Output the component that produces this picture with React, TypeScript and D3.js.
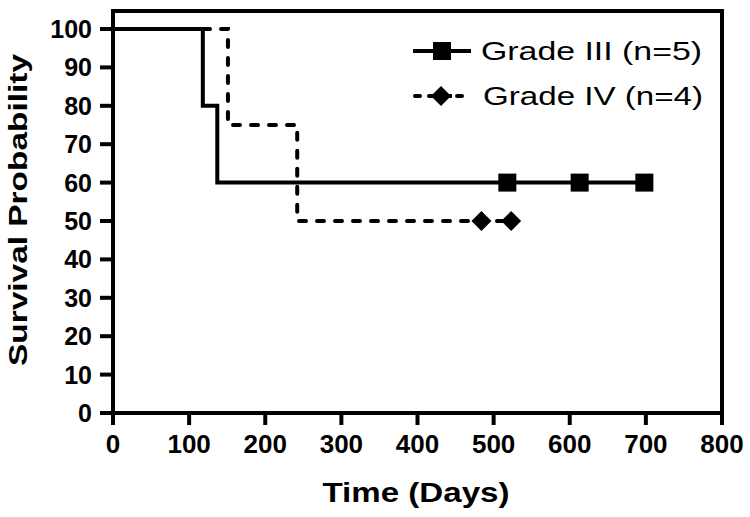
import React from "react";
import * as d3 from "d3";

const xTicks = [0, 100, 200, 300, 400, 500, 600, 700, 800];
const yTicks = [0, 10, 20, 30, 40, 50, 60, 70, 80, 90, 100];

const grade3Times = [0, 118, 137, 698];
const grade3Surv = [100, 80, 60, 60];
const grade3CensorTimes = [518, 613, 698];
const grade3CensorSurv = [60, 60, 60];

const grade4Times = [0, 151, 242, 523];
const grade4Surv = [100, 75, 50, 50];
const grade4CensorTimes = [484, 523];
const grade4CensorSurv = [50, 50];

const seriesLabels = ["Grade III (n=5)", "Grade IV (n=4)"];

const W = 750;
const H = 517;
const left = 113;
const right = 722;
const top = 29;
const bottom = 413;
const frameTop = 11;

export default function App() {
  const x = d3.scaleLinear().domain([0, 800]).range([left, right]);
  const y = d3.scaleLinear().domain([0, 100]).range([bottom, top]);

  const line = d3
    .line<[number, number]>()
    .x((d) => x(d[0]))
    .y((d) => y(d[1]))
    .curve(d3.curveStepAfter);

  const g3 = grade3Times.map((t, i) => [t, grade3Surv[i]] as [number, number]);
  const g4 = grade4Times.map((t, i) => [t, grade4Surv[i]] as [number, number]);

  const sq = 9;
  const dm = 10;
  const diamond = (cx: number, cy: number) =>
    `M${cx},${cy - dm}L${cx + dm},${cy}L${cx},${cy + dm}L${cx - dm},${cy}Z`;

  const font = "'Liberation Sans', Arial, sans-serif";

  return (
    <svg
      width={W}
      height={H}
      style={{ position: "absolute", left: 0, top: 0, background: "#fff" }}
      fontFamily={font}
    >
      <rect x={0} y={0} width={W} height={H} fill="#fff" />
      {/* data */}
      <path
        d={line(g4) || ""}
        fill="none"
        stroke="#000"
        strokeWidth={4}
        strokeDasharray="7,11"
        strokeLinecap="round"
      />
      <path d={line(g3) || ""} fill="none" stroke="#000" strokeWidth={4} />
      {grade3CensorTimes.map((t, i) => (
        <rect
          key={"s" + i}
          x={x(t) - sq}
          y={y(grade3CensorSurv[i]) - sq}
          width={sq * 2}
          height={sq * 2}
          fill="#000"
        />
      ))}
      {grade4CensorTimes.map((t, i) => (
        <path key={"d" + i} d={diamond(x(t), y(grade4CensorSurv[i]))} fill="#000" />
      ))}

      {/* frame */}
      <path
        d={`M${left},${bottom}V${frameTop}H${right}V${bottom}Z`}
        fill="none"
        stroke="#000"
        strokeWidth={4}
        strokeLinejoin="miter"
      />

      {/* y axis ticks */}
      {yTicks.map((v) => (
        <g key={"y" + v}>
          <line x1={left - 13} x2={left} y1={y(v)} y2={y(v)} stroke="#000" strokeWidth={4} />
          <text
            x={92}
            y={y(v)}
            dy="0.36em"
            textAnchor="end"
            fontSize={25}
            fontWeight="bold"
          >
            {v}
          </text>
        </g>
      ))}
      {/* x axis ticks */}
      {xTicks.map((v) => (
        <g key={"x" + v}>
          <line x1={x(v)} x2={x(v)} y1={bottom} y2={bottom + 12} stroke="#000" strokeWidth={4} />
          <text x={x(v)} y={453} textAnchor="middle" fontSize={26} fontWeight="bold">
            {v}
          </text>
        </g>
      ))}

      {/* axis titles */}
      <text
        x={416}
        y={502}
        textAnchor="middle"
        fontSize={27}
        fontWeight="bold"
        textLength={187}
        lengthAdjust="spacingAndGlyphs"
      >
        Time (Days)
      </text>
      <text
        transform={`translate(27,210) rotate(-90)`}
        textAnchor="middle"
        fontSize={26}
        fontWeight="bold"
        textLength={312}
        lengthAdjust="spacingAndGlyphs"
      >
        Survival Probability
      </text>

      {/* legend */}
      <line x1={413} x2={471} y1={51} y2={51} stroke="#000" strokeWidth={4} />
      <rect x={442 - sq} y={51 - sq} width={sq * 2} height={sq * 2} fill="#000" />
      <text x={481} y={60} fontSize={25} textLength={221} lengthAdjust="spacingAndGlyphs">
        {seriesLabels[0]}
      </text>
      <line
        x1={415}
        x2={471}
        y1={96}
        y2={96}
        stroke="#000"
        strokeWidth={4}
        strokeDasharray="5,9"
        strokeLinecap="round"
      />
      <path d={diamond(441, 96)} fill="#000" />
      <line x1={431} x2={452} y1={96} y2={96} stroke="#000" strokeWidth={4} />
      <text x={483} y={105} fontSize={25} textLength={220} lengthAdjust="spacingAndGlyphs">
        {seriesLabels[1]}
      </text>
    </svg>
  );
}
